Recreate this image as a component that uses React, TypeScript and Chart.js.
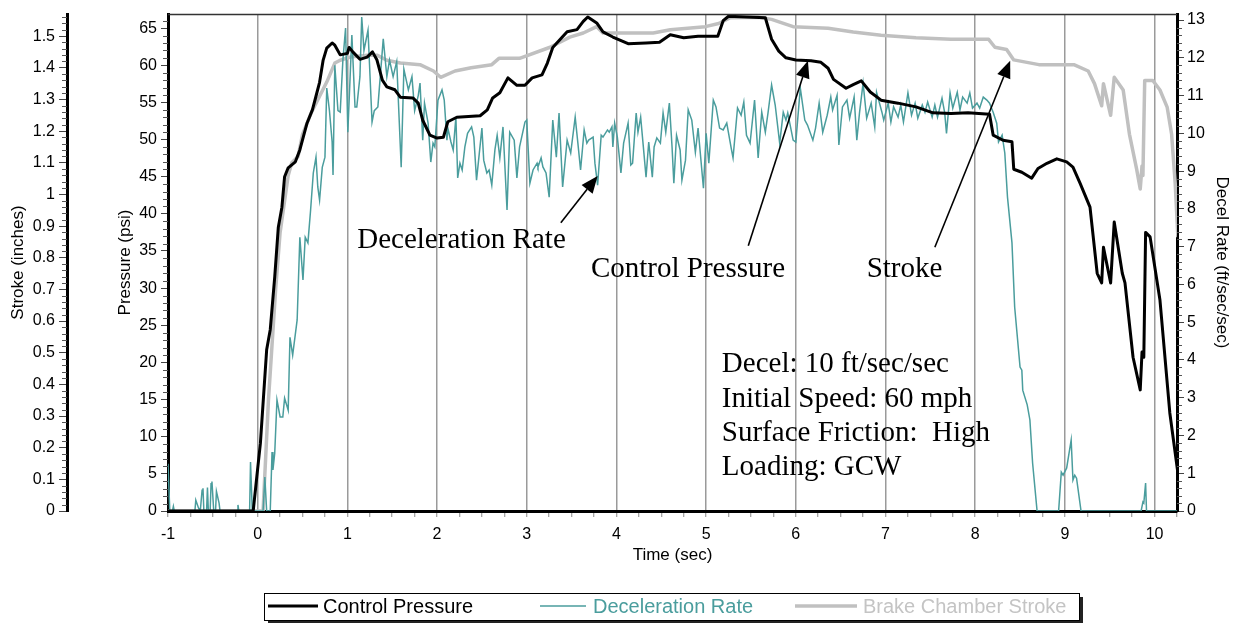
import React, { useEffect, useRef } from 'react';
import { Chart, registerables } from 'chart.js';

Chart.register(...registerables);

const SANS = "'Liberation Sans', Arial, sans-serif";
const SERIF = "'Liberation Serif', 'Times New Roman', serif";

const seriesNames = ['Control Pressure', 'Deceleration Rate', 'Brake Chamber Stroke'];
const seriesColors = ['#000000', '#4a9d9d', '#c0c0c0'];
const legendTextColors = ['#000000', '#4a9d9d', '#c4c4c4'];

const axisTitles = {
  time: 'Time (sec)',
  stroke: 'Stroke (inches)',
  pressure: 'Pressure (psi)',
  decel: 'Decel Rate (ft/sec/sec)',
};

// Control pressure (psi) vs time (sec)
const pressureTime = [
  -1.0, -0.05, -0.01, 0.03, 0.1, 0.14, 0.19, 0.23, 0.27, 0.3, 0.34, 0.42, 0.47, 0.55, 0.61, 0.66,
  0.69, 0.73, 0.77, 0.83, 0.86, 0.92, 1.0, 1.02, 1.06, 1.14, 1.22, 1.28, 1.33, 1.39, 1.44, 1.53,
  1.59, 1.73, 1.79, 1.84, 1.92, 2.0, 2.07, 2.12, 2.22, 2.48, 2.56, 2.62, 2.7, 2.79, 2.89, 2.98,
  3.06, 3.17, 3.23, 3.29, 3.45, 3.56, 3.63, 3.68, 3.78, 3.85, 3.96, 4.13, 4.33, 4.48, 4.6, 4.75,
  4.91, 5.13, 5.19, 5.25, 5.66, 5.73, 5.81, 5.89, 6.0, 6.17, 6.28, 6.36, 6.42, 6.56, 6.64, 6.73,
  6.83, 6.95, 7.14, 7.34, 7.53, 7.73, 7.92, 8.16, 8.2, 8.31, 8.41, 8.43, 8.52, 8.63, 8.7, 8.8,
  8.91, 9.02, 9.09, 9.17, 9.28, 9.36, 9.41, 9.43, 9.51, 9.55, 9.64, 9.67, 9.76, 9.84, 9.86, 9.88,
  9.9, 9.95, 10.06, 10.17, 10.26,
];
const pressurePsi = [
  0, 0, 4.6, 9.1, 21.7, 24.4, 31.5, 38.2, 40.9, 45.0, 46.2, 47.0, 48.6, 52.2, 54.0, 56.3,
  57.7, 60.7, 62.3, 63.0, 62.7, 61.4, 61.6, 62.4, 61.8, 60.8, 61.1, 61.8, 60.7, 58.0, 57.1, 56.7,
  55.7, 55.6, 54.9, 52.6, 50.6, 50.2, 50.3, 52.4, 53.0, 53.2, 54.0, 55.6, 56.3, 58.3, 57.3, 57.3,
  58.3, 58.7, 60.3, 62.4, 64.5, 64.8, 65.9, 66.5, 65.7, 64.5, 63.8, 62.9, 63.0, 63.1, 64.1, 63.7,
  63.9, 63.9, 66.0, 66.6, 66.4, 63.5, 61.9, 61.0, 60.7, 60.6, 60.4, 59.6, 58.1, 56.9, 57.4, 57.9,
  56.4, 55.3, 54.9, 54.4, 53.6, 53.5, 53.6, 53.4, 50.6, 49.9, 49.7, 46.0, 45.6, 44.8, 46.1, 46.8,
  47.4, 47.0, 46.3, 44.1, 40.9, 32.0, 30.7, 35.5, 30.7, 38.9, 32.0, 30.7, 20.7, 16.3, 21.4, 20.7,
  37.5, 36.9, 28.4, 13.2, 5.1,
];

// Deceleration rate (ft/sec/sec) vs time (sec)
const decelTime = [
  -1.0, -0.98, -0.95, -0.94, -0.93, -0.7, -0.69, -0.66, -0.64, -0.62, -0.61, -0.6, -0.57, -0.56, -0.55, -0.53,
  -0.52, -0.51, -0.49, -0.47, -0.46, -0.43, -0.42, -0.23, -0.22, -0.21, -0.09, -0.08, -0.06, 0.06, 0.08, 0.1,
  0.14, 0.16, 0.17, 0.19, 0.215, 0.25, 0.28, 0.3, 0.34, 0.36, 0.39, 0.44, 0.47, 0.505, 0.53, 0.56,
  0.59, 0.62, 0.65, 0.67, 0.69, 0.72, 0.75, 0.77, 0.8, 0.83, 0.84, 0.86, 0.895, 0.92, 0.95, 0.98,
  1.005, 1.05, 1.085, 1.105, 1.14, 1.16, 1.185, 1.23, 1.275, 1.3, 1.34, 1.4, 1.44, 1.47, 1.51, 1.55,
  1.6, 1.63, 1.68, 1.72, 1.75, 1.79, 1.81, 1.84, 1.86, 1.9, 1.93, 1.955, 1.975, 2.01, 2.055, 2.08,
  2.11, 2.12, 2.155, 2.18, 2.21, 2.23, 2.255, 2.28, 2.31, 2.34, 2.385, 2.41, 2.44, 2.5, 2.52, 2.555,
  2.58, 2.61, 2.645, 2.67, 2.7, 2.735, 2.78, 2.81, 2.86, 2.89, 2.92, 2.98, 3.0, 3.035, 3.07, 3.115,
  3.125, 3.16, 3.18, 3.215, 3.25, 3.29, 3.33, 3.36, 3.4, 3.45, 3.49, 3.54, 3.57, 3.6, 3.64, 3.67,
  3.69, 3.74, 3.76, 3.79, 3.83, 3.85, 3.9, 3.92, 3.95, 3.96, 3.98, 4.01, 4.05, 4.08, 4.13, 4.16,
  4.18, 4.22, 4.24, 4.27, 4.3, 4.33, 4.36, 4.4, 4.42, 4.45, 4.49, 4.52, 4.55, 4.59, 4.62, 4.64,
  4.67, 4.71, 4.73, 4.77, 4.8, 4.84, 4.88, 4.91, 4.97, 5.0, 5.03, 5.08, 5.11, 5.15, 5.19, 5.23,
  5.28, 5.3, 5.35, 5.39, 5.42, 5.45, 5.49, 5.54, 5.58, 5.62, 5.66, 5.69, 5.73, 5.77, 5.82, 5.86,
  5.89, 5.91, 5.97, 6.0, 6.05, 6.1, 6.13, 6.19, 6.22, 6.26, 6.3, 6.35, 6.39, 6.41, 6.46, 6.48,
  6.52, 6.57, 6.6, 6.65, 6.68, 6.71, 6.75, 6.79, 6.84, 6.88, 6.9, 6.96, 6.98, 7.03, 7.06, 7.09,
  7.14, 7.17, 7.2, 7.25, 7.29, 7.33, 7.36, 7.41, 7.44, 7.47, 7.52, 7.55, 7.58, 7.63, 7.66, 7.68,
  7.72, 7.75, 7.8, 7.83, 7.86, 7.91, 7.94, 7.97, 8.02, 8.05, 8.09, 8.13, 8.16, 8.2, 8.24, 8.26,
  8.3, 8.33, 8.36, 8.41, 8.44, 8.5, 8.52, 8.53, 8.58, 8.61, 8.64, 8.69, 8.93, 8.96, 8.98, 9.02,
  9.07, 9.09, 9.11, 9.13, 9.18, 9.85, 9.87, 9.88, 9.9, 9.91, 10.25,
];
const decelRate = [
  1.25, 0, 0, 0.12, 0, 0, 0.29, 0.08, 0, 0.55, 0.6, 0, 0, 0.62, 0, 0,
  0.72, 0.78, 0, 0, 0.52, 0.2, 0, 0, 0.16, 0, 0, 1.3, 0, 0, 0.9, 0,
  0, 1.56, 1.09, 1.53, 2.94, 2.49, 2.49, 2.99, 2.67, 4.6, 4.13, 5.06, 7.25, 6.12, 7.25, 7.1,
  7.97, 8.95, 9.37, 8.58, 8.23, 9.1, 9.37, 11.2, 10.6, 9.77, 8.9, 11.8, 10.6, 10.56, 11.94, 12.79,
  10.03, 12.6, 10.7, 10.7, 11.5, 13.08, 12.2, 12.73, 10.3, 10.6, 10.7, 12.5, 11.5, 11.94, 11.5, 11.9,
  9.1, 11.7, 11.15, 11.5, 10.6, 11.0, 11.33, 9.82, 10.8, 10.27, 9.24, 9.74, 9.64, 10.88, 11.15, 10.88,
  9.82, 10.14, 9.77, 9.56, 10.43, 8.82, 9.21, 9.03, 9.64, 10.0, 10.17, 9.9, 8.76, 10.14, 9.29, 8.95,
  9.03, 8.63, 9.56, 9.95, 9.35, 10.17, 7.97, 10.03, 9.82, 8.82, 9.64, 10.3, 10.35, 8.68, 9.03, 9.21,
  9.11, 9.35, 9.11, 8.95, 8.31, 10.35, 9.37, 10.54, 8.58, 9.82, 9.48, 10.43, 9.74, 9.03, 10.09, 9.74,
  9.82, 9.9, 9.21, 8.63, 9.95, 9.9, 10.09, 10.03, 10.17, 9.64, 10.27, 9.9, 8.95, 9.74, 10.27, 9.16,
  9.21, 10.54, 10.03, 10.43, 9.64, 8.84, 9.77, 8.84, 9.64, 9.88, 9.74, 10.54, 10.03, 10.8, 9.64, 8.68,
  9.95, 9.56, 8.76, 9.29, 10.62, 10.35, 9.5, 10.14, 8.55, 10.0, 9.21, 10.88, 10.7, 10.14, 10.09, 10.27,
  9.6, 9.35, 10.67, 10.48, 10.83, 9.95, 9.74, 10.88, 9.35, 10.56, 10.03, 10.54, 11.28, 10.75, 9.74, 10.56,
  10.35, 10.54, 9.82, 9.77, 11.2, 10.35, 10.22, 9.82, 10.14, 10.8, 10.03, 10.48, 10.96, 10.62, 11.01, 9.69,
  10.7, 10.88, 10.4, 10.96, 9.82, 10.54, 11.33, 10.4, 10.8, 10.17, 11.09, 10.56, 10.35, 10.8, 10.3, 10.7,
  10.43, 10.75, 10.3, 11.07, 10.48, 10.8, 10.4, 10.75, 10.56, 10.83, 10.43, 10.75, 10.43, 10.93, 10.54, 10.0,
  11.07, 10.67, 11.09, 10.62, 10.96, 10.8, 11.07, 10.67, 10.8, 10.67, 10.96, 10.88, 10.8, 10.56, 10.27, 9.77,
  9.95, 9.48, 8.31, 7.1, 5.4, 3.81, 3.73, 3.2, 2.81, 2.41, 1.27, 0, 0, 1.03, 0.95, 1.14,
  1.88, 0.82, 0.95, 0.87, 0, 0, 0.24, 0.21, 0.74, 0, 0,
];

// Brake chamber stroke (inches) vs time (sec)
const strokeTime = [
  -1.0, 0.06, 0.12, 0.2, 0.25, 0.34, 0.38, 0.45, 0.5, 0.6, 0.69, 0.77, 0.86, 0.92, 1.03, 1.22,
  1.33, 1.44, 1.59, 1.81, 1.96, 2.04, 2.2, 2.38, 2.61, 2.69, 2.92, 3.26, 3.48, 3.63, 3.78, 3.85,
  4.0, 4.41, 4.6, 4.99, 5.14, 5.27, 5.58, 5.73, 5.97, 6.36, 6.64, 6.95, 7.34, 7.73, 8.15, 8.22,
  8.35, 8.43, 8.71, 9.1, 9.26, 9.33, 9.41, 9.43, 9.51, 9.55, 9.65, 9.72, 9.8, 9.84, 9.86, 9.87,
  9.89, 9.98, 10.06, 10.14, 10.19, 10.23, 10.26,
];
const strokeInches = [
  0, 0, 0.35, 0.7, 0.88, 1.06, 1.1, 1.12, 1.19, 1.26, 1.31, 1.355, 1.415, 1.424, 1.434, 1.44,
  1.44, 1.424, 1.415, 1.41, 1.39, 1.37, 1.39, 1.4, 1.41, 1.43, 1.43, 1.465, 1.497, 1.51, 1.53, 1.51,
  1.51, 1.51, 1.52, 1.53, 1.54, 1.558, 1.56, 1.553, 1.53, 1.525, 1.513, 1.503, 1.495, 1.49, 1.49, 1.465,
  1.458, 1.425, 1.41, 1.41, 1.39, 1.35, 1.28, 1.35, 1.25, 1.37, 1.33, 1.19, 1.08, 1.017, 1.09, 1.06,
  1.36, 1.36, 1.33, 1.276, 1.19, 1.035, 0.865,
];

// Callouts, placed in data units (time, psi)
const calloutLabels = [
  { text: 'Deceleration Rate', t: 1.11, psi: 35.4 },
  { text: 'Control Pressure', t: 3.715, psi: 31.5 },
  { text: 'Stroke', t: 6.79, psi: 31.5 },
];
const calloutArrows = [
  { from: [3.38, 38.8], to: [3.79, 45.1] },
  { from: [5.47, 35.7], to: [6.135, 60.6] },
  { from: [7.55, 35.5], to: [8.39, 60.6] },
];
const testConditions = ['Decel: 10 ft/sec/sec', 'Initial Speed: 60 mph', 'Surface Friction:  High', 'Loading: GCW'];
const conditionsTime = 5.175;
const conditionsPsi = [18.7, 14.0, 9.42, 4.85];

const toPoints = (ts: number[], vs: number[]) => ts.map((t, i) => ({ x: t, y: vs[i] }));

const decorPlugin = {
  id: 'decor',
  afterDraw(chart: any) {
    const ctx = chart.ctx as CanvasRenderingContext2D;
    const area = chart.chartArea;
    const sx = chart.scales.x;
    const sp = chart.scales.yPressure;
    const ss = chart.scales.yStroke;
    const sd = chart.scales.yDecel;
    ctx.save();

    // top frame line
    ctx.strokeStyle = '#333';
    ctx.lineWidth = 1.5;
    ctx.beginPath();
    ctx.moveTo(area.left, area.top + 0.5);
    ctx.lineTo(area.right, area.top + 0.5);
    ctx.stroke();

    // minor ticks
    const minor = (scale: any, step: number, every: number, side: 'left' | 'right') => {
      ctx.strokeStyle = '#555';
      ctx.lineWidth = 1;
      for (let i = 1; i * step <= scale.max + 1e-9; i++) {
        if (i % every === 0) continue;
        const y = Math.round(scale.getPixelForValue(i * step)) + 0.5;
        ctx.beginPath();
        if (side === 'left') {
          ctx.moveTo(scale.right - 5, y);
          ctx.lineTo(scale.right, y);
        } else {
          ctx.moveTo(scale.left, y);
          ctx.lineTo(scale.left + 5, y);
        }
        ctx.stroke();
      }
    };
    minor(sp, 1, 5, 'left');
    minor(ss, 0.02, 5, 'left');
    minor(sd, 0.2, 5, 'right');

    // callout labels
    ctx.fillStyle = '#000';
    ctx.font = `29px ${SERIF}`;
    ctx.textBaseline = 'alphabetic';
    ctx.textAlign = 'left';
    calloutLabels.forEach((c) => {
      ctx.fillText(c.text, sx.getPixelForValue(c.t), sp.getPixelForValue(c.psi));
    });
    testConditions.forEach((line, i) => {
      ctx.fillText(line, sx.getPixelForValue(conditionsTime), sp.getPixelForValue(conditionsPsi[i]));
    });

    // arrows
    calloutArrows.forEach((a) => {
      const x1 = sx.getPixelForValue(a.from[0]);
      const y1 = sp.getPixelForValue(a.from[1]);
      const x2 = sx.getPixelForValue(a.to[0]);
      const y2 = sp.getPixelForValue(a.to[1]);
      const ang = Math.atan2(y2 - y1, x2 - x1);
      const headLen = 17;
      const headHalf = 7;
      const bx = x2 - headLen * Math.cos(ang);
      const by = y2 - headLen * Math.sin(ang);
      ctx.strokeStyle = '#000';
      ctx.lineWidth = 1.6;
      ctx.beginPath();
      ctx.moveTo(x1, y1);
      ctx.lineTo(bx, by);
      ctx.stroke();
      ctx.beginPath();
      ctx.moveTo(x2, y2);
      ctx.lineTo(bx + headHalf * Math.sin(ang), by - headHalf * Math.cos(ang));
      ctx.lineTo(bx - headHalf * Math.sin(ang), by + headHalf * Math.cos(ang));
      ctx.closePath();
      ctx.fillStyle = '#000';
      ctx.fill();
    });

    // legend box
    const lx = 264;
    const ly = 593;
    const lw = 815;
    const lh = 27;
    ctx.fillStyle = '#222';
    ctx.fillRect(lx + 4, ly + 4, lw, lh);
    ctx.fillStyle = '#fff';
    ctx.fillRect(lx, ly, lw, lh);
    ctx.strokeStyle = '#000';
    ctx.lineWidth = 1;
    ctx.strokeRect(lx + 0.5, ly + 0.5, lw, lh);
    const items = [
      { x1: 268, x2: 318, tx: 323, w: 3 },
      { x1: 540, x2: 586, tx: 593, w: 1.5 },
      { x1: 795, x2: 857, tx: 863, w: 3.5 },
    ];
    ctx.font = `20px ${SANS}`;
    items.forEach((it, i) => {
      ctx.strokeStyle = seriesColors[i];
      ctx.lineWidth = it.w;
      ctx.beginPath();
      ctx.moveTo(it.x1, ly + 13);
      ctx.lineTo(it.x2, ly + 13);
      ctx.stroke();
      ctx.fillStyle = legendTextColors[i];
      ctx.fillText(seriesNames[i], it.tx, ly + 20);
    });

    ctx.restore();
  },
};

export default function App() {
  const ref = useRef<HTMLCanvasElement>(null);

  useEffect(() => {
    const tickFont = { family: SANS, size: 16 };
    const titleFont = { family: SANS, size: 17 };
    const chart = new Chart(ref.current as HTMLCanvasElement, {
      type: 'line',
      data: {
        datasets: [
          {
            label: seriesNames[0],
            data: toPoints(pressureTime, pressurePsi),
            yAxisID: 'yPressure',
            borderColor: seriesColors[0],
            borderWidth: 3,
            pointRadius: 0,
            tension: 0,
            fill: false,
            borderJoinStyle: 'round',
          },
          {
            label: seriesNames[1],
            data: toPoints(decelTime, decelRate),
            yAxisID: 'yDecel',
            borderColor: seriesColors[1],
            borderWidth: 1.5,
            pointRadius: 0,
            tension: 0,
            fill: false,
          },
          {
            label: seriesNames[2],
            data: toPoints(strokeTime, strokeInches),
            yAxisID: 'yStroke',
            borderColor: seriesColors[2],
            borderWidth: 3.5,
            pointRadius: 0,
            tension: 0,
            fill: false,
            borderJoinStyle: 'round',
          },
        ],
      },
      options: {
        animation: false,
        responsive: false,
        devicePixelRatio: 1,
        layout: { padding: { top: 14, left: 0, right: 0, bottom: 52 } },
        plugins: {
          legend: { display: false },
          tooltip: { enabled: false },
          title: { display: false },
        },
        scales: {
          x: {
            type: 'linear',
            position: 'bottom',
            min: -1,
            max: 10.25,
            ticks: {
              stepSize: 0.25,
              autoSkip: false,
              maxRotation: 0,
              includeBounds: false,
              padding: 8,
              color: '#000',
              font: tickFont,
              callback: (v: any) => (Number.isInteger(v) ? String(v) : ''),
            },
            grid: {
              color: (c: any) =>
                c.tick && Number.isInteger(c.tick.value) && c.tick.value > -1 ? '#9a9a9a' : 'rgba(0,0,0,0)',
              lineWidth: 1.5,
              tickLength: 6,
              tickColor: '#888',
              tickWidth: 1,
            },
            border: { color: '#000', width: 3 },
            title: { display: true, text: axisTitles.time, color: '#000', font: titleFont, padding: { top: 0, bottom: 5 } },
            afterFit: (s: any) => {
              s.height = 60;
            },
          },
          yStroke: {
            type: 'linear',
            position: 'left',
            weight: 10,
            min: 0,
            max: 1.57,
            ticks: {
              stepSize: 0.1,
              includeBounds: false,
              padding: 4,
              color: '#000',
              font: tickFont,
              callback: (v: any) => String(Math.round(v * 10) / 10),
            },
            grid: { drawOnChartArea: false, tickLength: 8, tickColor: '#444', tickWidth: 1 },
            border: { color: '#000', width: 3 },
            title: { display: true, text: axisTitles.stroke, color: '#000', font: titleFont, padding: { top: 8, bottom: 0 } },
            afterFit: (s: any) => {
              s.width = 67;
            },
          },
          yPressure: {
            type: 'linear',
            position: 'left',
            weight: 0,
            min: 0,
            max: 66.9,
            ticks: {
              stepSize: 5,
              includeBounds: false,
              padding: 4,
              color: '#000',
              font: tickFont,
              callback: (v: any) => String(v),
            },
            grid: { drawOnChartArea: false, tickLength: 7, tickColor: '#444', tickWidth: 1 },
            border: { color: '#000', width: 3 },
            title: { display: true, text: axisTitles.pressure, color: '#000', font: titleFont, padding: { top: 48, bottom: 0 } },
            afterFit: (s: any) => {
              s.width = 101;
            },
          },
          yDecel: {
            type: 'linear',
            position: 'right',
            min: 0,
            max: 13.16,
            ticks: {
              stepSize: 1,
              includeBounds: false,
              padding: 3,
              color: '#000',
              font: tickFont,
              callback: (v: any) => String(v),
            },
            grid: { drawOnChartArea: false, tickLength: 7, tickColor: '#444', tickWidth: 1 },
            border: { color: '#000', width: 3 },
            title: { display: true, text: axisTitles.decel, color: '#000', font: titleFont, padding: { top: 9, bottom: 0 } },
            afterFit: (s: any) => {
              s.width = 64;
            },
          },
        },
      },
      plugins: [decorPlugin],
    } as any);
    return () => chart.destroy();
  }, []);

  return (
    <div style={{ position: 'absolute', left: 0, top: 0, width: 1241, height: 623, background: '#fff' }}>
      <canvas ref={ref} width={1241} height={623} style={{ display: 'block' }} />
    </div>
  );
}
